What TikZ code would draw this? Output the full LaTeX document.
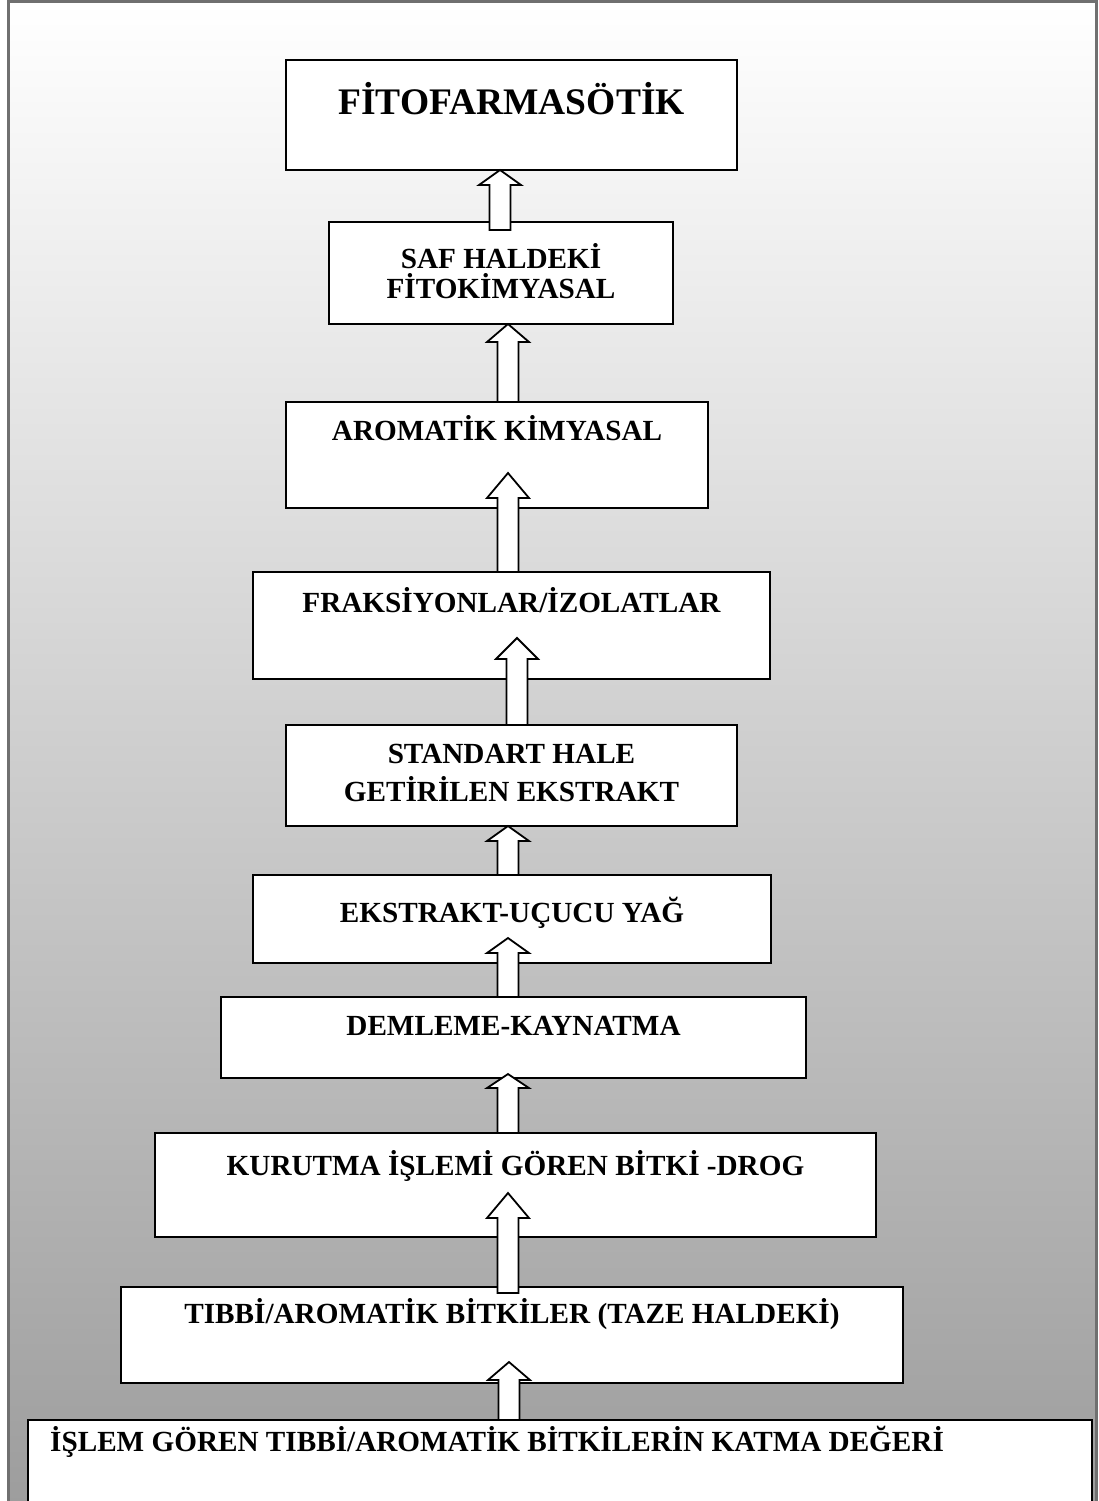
\documentclass[tikz,border=0pt]{standalone}
\usepackage{fontspec}
\setmainfont{Liberation Serif}
\usetikzlibrary{calc}
\definecolor{framegray}{RGB}{112,112,112}
\definecolor{bgbottom}{RGB}{156,156,156}
\tikzset{
  box/.style={draw=black, fill=white, line width=2pt, rectangle, inner sep=0pt, outer sep=0pt, anchor=north west},
  lbl/.style={font=\bfseries\fontsize{29.2}{34}\selectfont, inner sep=0pt, anchor=base},
  biglbl/.style={font=\bfseries\fontsize{37.5}{44}\selectfont, inner sep=0pt, anchor=base},
  barrow/.style={draw=black, fill=white, line width=1.8pt, line join=miter}
}
% #1 x centre, #2 lower node, #3 overlap into lower, #4 upper node, #5 tip inside upper, #6 head length
\newcommand\blockarrow[6]{%
  \draw[barrow] let \p1=(#2.north), \p2=(#4.south) in
    (#1pt-10.5pt,\y1-#3pt) -- (#1pt-10.5pt,\y2+#5pt-#6pt) -- (#1pt-21pt,\y2+#5pt-#6pt)
    -- (#1pt,\y2+#5pt) -- (#1pt+21pt,\y2+#5pt-#6pt) -- (#1pt+10.5pt,\y2+#5pt-#6pt)
    -- (#1pt+10.5pt,\y1-#3pt) -- cycle;}
\begin{document}
\begin{tikzpicture}[x=1pt,y=-1pt]
\useasboundingbox (0,0) rectangle (1099,1501);
\begin{scope}
\clip (0,0) rectangle (1099,1501);
\shade[top color=white, bottom color=bgbottom] (8,2) rectangle (1096,1520);
\draw[framegray, line width=3pt] (8,2) rectangle (1096,1520);

\node[box, minimum width=451pt, minimum height=110pt] (b1) at (286,60) {};
\node[box, minimum width=344pt, minimum height=102pt] (b2) at (329,222) {};
\node[box, minimum width=422pt, minimum height=106pt] (b3) at (286,402) {};
\node[box, minimum width=517pt, minimum height=107pt] (b4) at (253,572) {};
\node[box, minimum width=451pt, minimum height=101pt] (b5) at (286,725) {};
\node[box, minimum width=518pt, minimum height=88pt] (b6) at (253,875) {};
\node[box, minimum width=585pt, minimum height=81pt] (b7) at (221,997) {};
\node[box, minimum width=721pt, minimum height=104pt] (b8) at (155,1133) {};
\node[box, minimum width=782pt, minimum height=96pt] (b9) at (121,1287) {};
\node[box, minimum width=1064pt, minimum height=110pt] (b10) at (28,1420) {};

\blockarrow{500}{b2}{8}{b1}{0}{15}
\blockarrow{508}{b3}{0}{b2}{0}{18}
\blockarrow{508}{b4}{0}{b3}{35}{25}
\blockarrow{517}{b5}{0}{b4}{41}{21}
\blockarrow{508}{b6}{0}{b5}{0}{15}
\blockarrow{508}{b7}{0}{b6}{25}{15}
\blockarrow{508}{b8}{0}{b7}{4}{14}
\blockarrow{508}{b9}{6}{b8}{44}{25}
\blockarrow{509}{b10}{0}{b9}{21}{18}

\node[biglbl] (t1) at ($(b1.north)+(0,55)$) {FİTOFARMASÖTİK};
\node[lbl] (t2a) at ($(b2.north)+(0,46)$) {SAF HALDEKİ};
\node[lbl] (t2b) at ($(b2.north)+(0,76)$) {FİTOKİMYASAL};
\node[lbl] (t3) at ($(b3.north)+(0,38)$) {AROMATİK KİMYASAL};
\node[lbl] (t4) at ($(b4.north)+(0,40)$) {FRAKSİYONLAR/İZOLATLAR};
\node[lbl] (t5a) at ($(b5.north)+(0,38)$) {STANDART HALE};
\node[lbl] (t5b) at ($(b5.north)+(0,76)$) {GETİRİLEN EKSTRAKT};
\node[lbl] (t6) at ($(b6.north)+(0,47)$) {EKSTRAKT-UÇUCU YAĞ};
\node[lbl] (t7) at ($(b7.north)+(0,38)$) {DEMLEME-KAYNATMA};
\node[lbl] (t8) at ($(b8.north)+(0,42)$) {KURUTMA İŞLEMİ GÖREN BİTKİ -DROG};
\node[lbl] (t9) at ($(b9.north)+(0,36)$) {TIBBİ/AROMATİK BİTKİLER (TAZE HALDEKİ)};
\node[lbl, anchor=base west] (t10) at (50,1451) {İŞLEM GÖREN TIBBİ/AROMATİK BİTKİLERİN KATMA DEĞERİ};
\end{scope}
\end{tikzpicture}
\end{document}
